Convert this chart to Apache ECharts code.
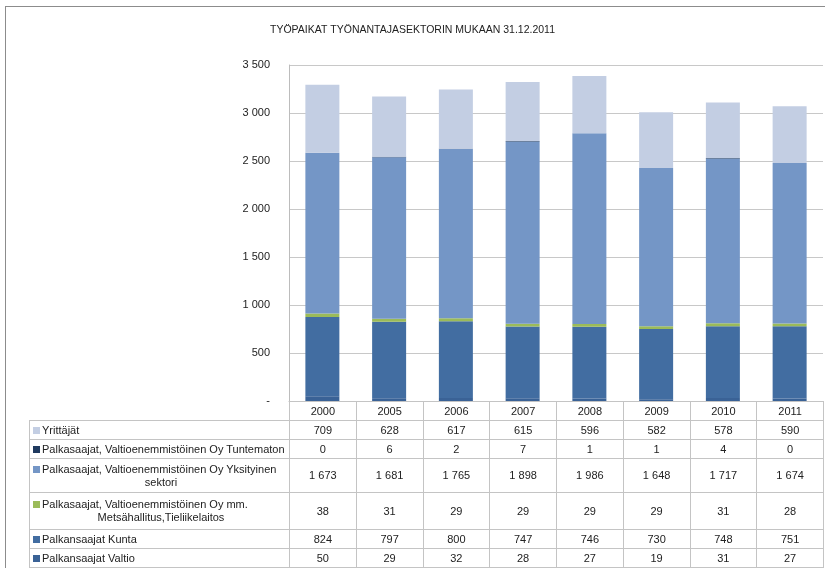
<!DOCTYPE html>
<html>
<head>
<meta charset="utf-8">
<script src="https://cdn.jsdelivr.net/npm/echarts@6/dist/echarts.min.js"></script>
<style>
  body { margin: 0; background: #fff; }
  #wrap { position: relative; width: 825px; height: 568px; overflow: hidden; }
  #frame { position: absolute; left: 5px; top: 6px; width: 900px; height: 700px; border: 1px solid #8c8c8c; }
  #chart { position: absolute; left: 0; top: 0; width: 825px; height: 568px; }
  #tbl { position: absolute; left: 29px; top: 401px; border-collapse: collapse; table-layout: fixed;
         font-family: "Liberation Sans", Arial, sans-serif; font-size: 11px; color: #222; }
  #tbl td { border: 1px solid #c4c4c4; padding: 0; text-align: center; line-height: 13px; }
  #tbl td.lab { text-align: left; padding-left: 3px; }
  #tbl td.blank { border: none; }
  .mk { display: inline-block; width: 7px; height: 7px; margin-right: 2px; vertical-align: 0px; }
  .l2 { display: block; text-align: center; }
</style>
</head>
<body>
<div id="wrap">
  <div id="frame"></div>
  <div id="chart"></div>
  <table id="tbl"></table>
</div>
<script>
var years = ['2000','2005','2006','2007','2008','2009','2010','2011'];
var yrittajat = [709, 628, 617, 615, 596, 582, 578, 590];
var tuntematon = [0, 6, 2, 7, 1, 1, 4, 0];
var yksityinen = [1673, 1681, 1765, 1898, 1986, 1648, 1717, 1674];
var metsahallitus = [38, 31, 29, 29, 29, 29, 31, 28];
var kunta = [824, 797, 800, 747, 746, 730, 748, 751];
var valtio = [50, 29, 32, 28, 27, 19, 31, 27];

// stacked from the bottom up
var seriesDefs = [
  {name: 'Palkansaajat Valtio', data: valtio, color: '#3a6296'},
  {name: 'Palkansaajat Kunta', data: kunta, color: '#426da1'},
  {name: 'Palkasaajat, Valtioenemmistöinen Oy mm. Metsähallitus,Tieliikelaitos', data: metsahallitus, color: '#9bbb59'},
  {name: 'Palkasaajat, Valtioenemmistöinen Oy Yksityinen sektori', data: yksityinen, color: '#7496c6'},
  {name: 'Palkasaajat, Valtioenemmistöinen Oy Tuntematon', data: tuntematon, color: '#1f3a5f'},
  {name: 'Yrittäjät', data: yrittajat, color: '#c3cee3'}
];

// table rows, top to bottom, as in the picture
var tableRows = [
  {label: ['Yrittäjät'], data: yrittajat, color: '#c3cee3', h: 19},
  {label: ['Palkasaajat, Valtioenemmistöinen Oy Tuntematon'], data: tuntematon, color: '#1f3a5f', h: 19},
  {label: ['Palkasaajat, Valtioenemmistöinen Oy Yksityinen', 'sektori'], data: yksityinen, color: '#7496c6', h: 34},
  {label: ['Palkasaajat, Valtioenemmistöinen Oy mm.', 'Metsähallitus,Tieliikelaitos'], data: metsahallitus, color: '#9bbb59', h: 37},
  {label: ['Palkansaajat Kunta'], data: kunta, color: '#426da1', h: 19},
  {label: ['Palkansaajat Valtio'], data: valtio, color: '#3a6296', h: 19}
];

function fmt(v) {
  return String(v).replace(/\B(?=(\d{3})+(?!\d))/g, ' ');
}

var chart = echarts.init(document.getElementById('chart'));
var option = {
  animation: false,
  title: {
    text: 'TYÖPAIKAT TYÖNANTAJASEKTORIN MUKAAN 31.12.2011',
    left: 'center',
    top: 20,
    textStyle: {fontFamily: '"Liberation Sans", Arial', fontSize: 10.5, fontWeight: 'normal', color: '#222'}
  },
  grid: {left: 289, right: 2, top: 65, bottom: 167},
  xAxis: {
    type: 'category',
    data: years,
    axisLine: {show: true, lineStyle: {color: '#bcbcbc'}},
    axisTick: {show: false},
    axisLabel: {show: false}
  },
  yAxis: {
    type: 'value',
    min: 0,
    max: 3500,
    interval: 500,
    axisLine: {show: true, lineStyle: {color: '#bcbcbc'}},
    axisTick: {show: false},
    splitLine: {lineStyle: {color: '#c8c8c8'}},
    axisLabel: {
      margin: 19,
      fontFamily: '"Liberation Sans", Arial',
      fontSize: 11,
      color: '#222',
      formatter: function (v) { return v === 0 ? '-' : fmt(v); }
    }
  },
  series: seriesDefs.map(function (s) {
    return {
      name: s.name,
      type: 'bar',
      stack: 'total',
      barWidth: 34,
      data: s.data,
      itemStyle: {color: s.color}
    };
  })
};
chart.setOption(option);

// data table under the plot
var tbl = document.getElementById('tbl');
var html = '<colgroup><col style="width:260px">';
years.forEach(function () { html += '<col style="width:66.75px">'; });
html += '</colgroup><tr style="height:19px"><td class="blank"></td>';
years.forEach(function (y) { html += '<td>' + y + '</td>'; });
html += '</tr>';
tableRows.forEach(function (r) {
  html += '<tr style="height:' + r.h + 'px"><td class="lab"><span class="mk" style="background:' + r.color + '"></span>' + r.label[0];
  if (r.label.length > 1) html += '<span class="l2">' + r.label[1] + '</span>';
  html += '</td>';
  r.data.forEach(function (v) { html += '<td>' + fmt(v) + '</td>'; });
  html += '</tr>';
});
tbl.innerHTML = html;
</script>
</body>
</html>
